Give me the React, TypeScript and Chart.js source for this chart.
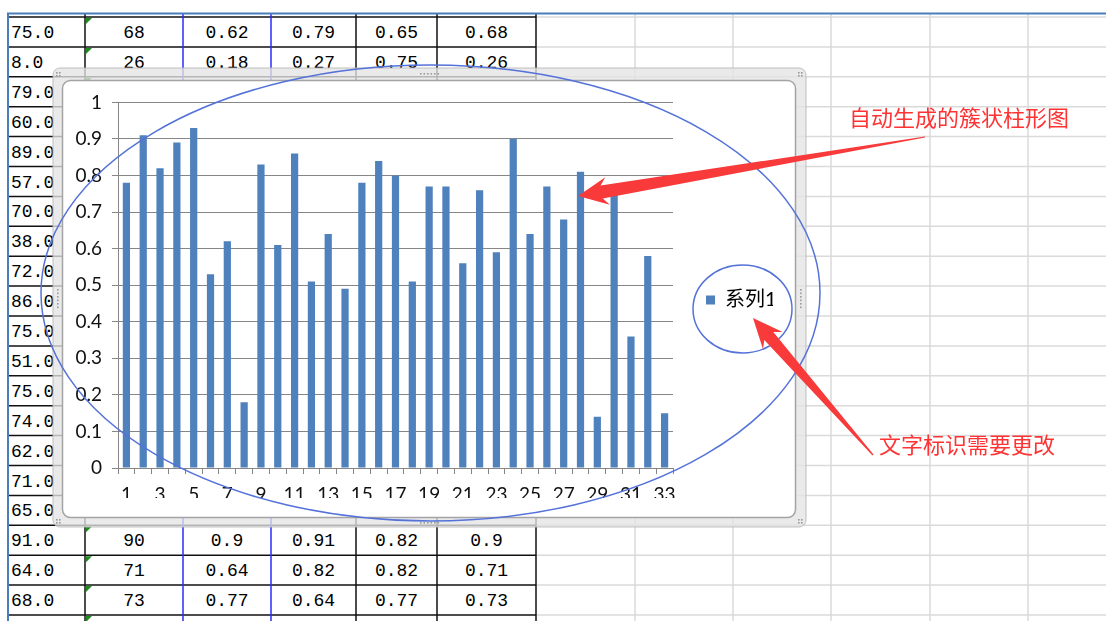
import React, { useEffect, useRef } from 'react';
import { Chart, registerables } from 'chart.js';

Chart.register(...registerables);

// ---------- chart data ----------
const categories = ['1','2','3','4','5','6','7','8','9','10','11','12','13','14','15','16','17','18','19','20','21','22','23','24','25','26','27','28','29','30','31','32','33'];
const values = [0.78,0.91,0.82,0.89,0.93,0.53,0.62,0.18,0.83,0.61,0.86,0.51,0.64,0.49,0.78,0.84,0.80,0.51,0.77,0.77,0.56,0.76,0.59,0.90,0.64,0.77,0.68,0.81,0.14,0.75,0.36,0.58,0.15];
const seriesName = '系列1';
const yTickLabels = ['0','0.1','0.2','0.3','0.4','0.5','0.6','0.7','0.8','0.9','1'];

// ---------- spreadsheet content ----------
const sheetColA = ['75.0','8.0','79.0','60.0','89.0','57.0','70.0','38.0','72.0','86.0','75.0','51.0','75.0','74.0','62.0','71.0','65.0','91.0','64.0','68.0'];
const sheetRowIndices = [0, 1, 17, 18, 19];
const sheetColB = ['68','26','90','71','73'];
const sheetColC = ['0.62','0.18','0.9','0.64','0.77'];
const sheetColD = ['0.79','0.27','0.91','0.82','0.64'];
const sheetColE = ['0.65','0.75','0.82','0.82','0.77'];
const sheetColF = ['0.68','0.26','0.9','0.71','0.73'];

// ---------- annotation texts ----------
const noteChart = '自动生成的簇状柱形图';
const noteLegend = '文字标识需要更改';

const FONT = 'Lato, "Noto Sans CJK SC", sans-serif';
const AXIS = '#868686';
const BAR = '#4F81BD';
const RED = '#f83a3a';
const ELLIPSE = '#5472d9';

const ROW_TOP = 17;
const ROW_H = 29.9;
const tableColX = [8, 85, 183, 271, 356, 437, 536];
const tableColColor = ['#4a7ebb', '#111', '#2b2bff', '#2b2bff', '#111', '#111', '#111'];
const grayColX = [635, 733, 831, 930, 1028];

function Sheet() {
  const rows = Array.from({ length: 21 }, (_, k) => ROW_TOP + ROW_H * k);
  const centers = [ (85 + 183) / 2, (183 + 271) / 2, (271 + 356) / 2, (356 + 437) / 2, (437 + 536) / 2 ];
  const cols = [sheetColB, sheetColC, sheetColD, sheetColE, sheetColF];
  return (
    <svg width={1106} height={621} style={{ position: 'absolute', left: 0, top: 0 }}>
      {rows.map((y, k) => (
        <g key={'r' + k}>
          <line x1={536} x2={1106} y1={y} y2={y} stroke="#dadada" strokeWidth={1.5} />
          <line x1={8} x2={536} y1={y} y2={y} stroke="#111" strokeWidth={1.5} />
        </g>
      ))}
      {grayColX.map((x, i) => (
        <line key={'g' + i} x1={x} x2={x} y1={14} y2={621} stroke="#dadada" strokeWidth={1.5} />
      ))}
      {tableColX.map((x, i) => (
        <line key={'c' + i} x1={x} x2={x} y1={13} y2={621} stroke={tableColColor[i]} strokeWidth={i === 0 ? 2 : 1.5} />
      ))}
      <line x1={7} x2={1106} y1={13.5} y2={13.5} stroke="#4a7ebb" strokeWidth={2} />
      {rows.map((y, k) => (
        <polygon key={'t' + k} points={`${86},${y + 1} ${92},${y + 1} ${86},${y + 7}`} fill="#1f8a1f" />
      ))}
      {sheetColA.map((t, k) => (
        <text key={'a' + k} x={11} y={ROW_TOP + ROW_H * k + 16} dominantBaseline="central"
          fontFamily='"Liberation Mono", monospace' fontSize={18} fill="#000">{t}</text>
      ))}
      {sheetRowIndices.map((r, j) => cols.map((col, c) => (
        <text key={'v' + j + '-' + c} x={centers[c]} y={ROW_TOP + ROW_H * r + 16} dominantBaseline="central"
          textAnchor="middle" fontFamily='"Liberation Mono", monospace' fontSize={18} fill="#000">{col[j]}</text>
      )))}
    </svg>
  );
}

function Frame() {
  const dots: [number, number][] = [];
  const addRow = (x0: number, y0: number, n: number, dx: number, dy: number) => {
    for (let i = 0; i < n; i++) dots.push([x0 + dx * i, y0 + dy * i]);
  };
  // corners
  addRow(56, 72, 2, 3, 0); addRow(56, 75, 2, 3, 0);
  addRow(798, 72, 2, 3, 0); addRow(798, 75, 2, 3, 0);
  addRow(56, 519, 2, 3, 0); addRow(56, 522, 2, 3, 0);
  addRow(798, 519, 2, 3, 0); addRow(798, 522, 2, 3, 0);
  // mid handles
  addRow(420, 73, 6, 3.5, 0);
  addRow(420, 522, 6, 3.5, 0);
  addRow(800, 289, 6, 0, 3.5);
  addRow(57, 289, 6, 0, 3.5);
  return (
    <svg width={1106} height={621} style={{ position: 'absolute', left: 0, top: 0 }}>
      <rect x={53} y={68} width={753} height={459} rx={7} ry={7} fill="rgba(228,228,228,0.78)" stroke="rgba(185,185,185,0.9)" strokeWidth={1} />
      <rect x={62.5} y={80.5} width={733} height={437} rx={8} ry={8} fill="#ffffff" stroke="#a4a4a4" strokeWidth={1.5} />
      {dots.map(([x, y], i) => (
        <rect key={i} x={x} y={y} width={1.6} height={1.6} fill="#9a9a9a" />
      ))}
    </svg>
  );
}

function Annotations() {
  const arrow1 = '578,196 605.3,177.2 600.6,185.6 925,136.5 925,137.5 602.8,198.4 609.9,204.8';
  const arrow2 = '753,318 763,349.2 764.3,340 872.5,455.5 873.5,454.5 773.3,332 782.6,332';
  return (
    <svg width={1106} height={621} style={{ position: 'absolute', left: 0, top: 0, pointerEvents: 'none' }}>
      <ellipse cx={430.5} cy={293} rx={389.5} ry={228} fill="none" stroke={ELLIPSE} strokeWidth={1.5} />
      <ellipse cx={742.5} cy={309} rx={49.5} ry={44} fill="none" stroke={ELLIPSE} strokeWidth={1.5} />
      <polygon points={arrow1} fill={RED} />
      <polygon points={arrow2} fill={RED} />
      <text x={849} y={116} dominantBaseline="central" fontFamily='"Noto Sans CJK SC", sans-serif' fontSize={22} fill="#ff3333">{noteChart}</text>
      <text x={879} y={443} dominantBaseline="central" fontFamily='"Noto Sans CJK SC", sans-serif' fontSize={22} fill="#ff3333">{noteLegend}</text>
    </svg>
  );
}

function BarChart() {
  const ref = useRef<HTMLCanvasElement>(null);
  useEffect(() => {
    if (!ref.current) return;
    const chart = new Chart(ref.current, {
      type: 'bar',
      data: {
        labels: categories,
        datasets: [{
          label: seriesName,
          data: values,
          backgroundColor: BAR,
          borderWidth: 0,
          barPercentage: 0.43,
          categoryPercentage: 1,
        }],
      },
      options: {
        responsive: false,
        animation: false,
        events: [],
        layout: { padding: { left: 0, top: 21, right: 50, bottom: 19 } },
        plugins: {
          legend: {
            position: 'right',
            maxWidth: 100,
            labels: {
              boxWidth: 9,
              boxHeight: 9,
              padding: 33,
              color: '#000',
              font: { family: FONT, size: 20 },
            },
          },
          tooltip: { enabled: false },
        },
        scales: {
          x: {
            grid: { drawOnChartArea: false, drawTicks: true, tickLength: 6, color: AXIS, offset: true },
            border: { color: AXIS, width: 1 },
            ticks: {
              autoSkip: false,
              maxRotation: 0,
              minRotation: 0,
              padding: 9,
              color: '#111',
              font: { family: FONT, size: 19 },
              callback: (_v: any, i: number) => (i % 2 === 0 ? categories[i] : ''),
            },
            afterFit: (s: any) => { s.height = 30; },
          },
          y: {
            min: 0,
            max: 1,
            grid: { color: AXIS, tickLength: 6 },
            border: { color: AXIS, width: 1 },
            ticks: {
              stepSize: 0.1,
              padding: 10,
              color: '#111',
              font: { family: FONT, size: 19 },
              callback: (v: any) => yTickLabels[Math.round(Number(v) * 10)],
            },
            afterFit: (s: any) => { s.width = 55; },
          },
        },
      } as any,
    });
    return () => chart.destroy();
  }, []);
  return (
    <canvas ref={ref} width={760} height={436}
      style={{ position: 'absolute', left: 63, top: 81, width: 760, height: 436 }} />
  );
}

export default function App() {
  return (
    <div style={{ position: 'fixed', left: 0, top: 0, width: 1106, height: 621, overflow: 'hidden', background: '#fff' }}>
      <Sheet />
      <Frame />
      <BarChart />
      <Annotations />
    </div>
  );
}
